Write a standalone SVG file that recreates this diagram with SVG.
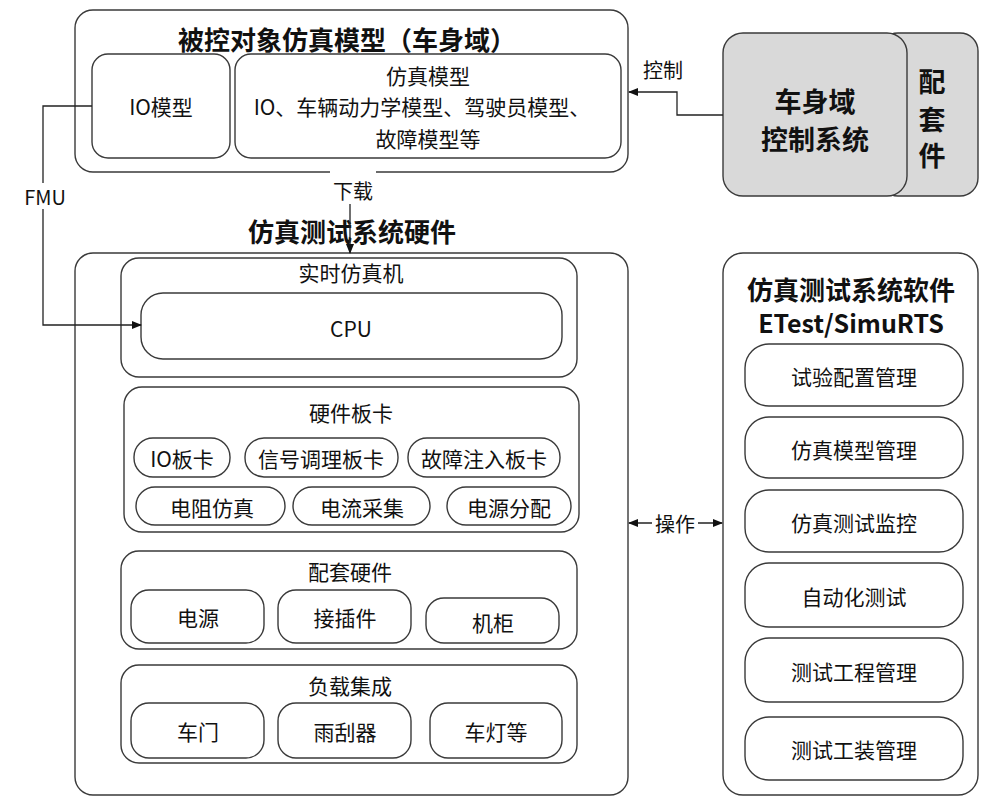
<svg xmlns="http://www.w3.org/2000/svg" width="1000" height="808" viewBox="0 0 1000 808">
<defs>
<marker id="ah" markerWidth="10" markerHeight="8" refX="9" refY="4" orient="auto-start-reverse" markerUnits="userSpaceOnUse">
<path d="M0,0 L10,4 L0,8 Z" fill="#111"/>
</marker>
</defs>
<style>
.box{fill:#fff;stroke:#3a3a3a;stroke-width:1.4}
.gray{fill:#d9d9d9;stroke:#3a3a3a;stroke-width:1.4}
.t{font-family:"Noto Sans CJK SC","Noto Sans",sans-serif;font-size:21px;fill:#111;text-anchor:middle;dominant-baseline:central}
.s{font-size:20px}
.b{font-weight:bold;font-size:26px}
.big{font-weight:bold;font-size:27px}
.ln{fill:none;stroke:#222;stroke-width:1.3}
.lbl{fill:#fff}
</style>
<rect width="1000" height="808" fill="#fff"/>

<g id="plant-model">
<rect class="box" x="75" y="10" width="553" height="162" rx="18"/>
<text class="t b" x="347" y="38">被控对象仿真模型（车身域）</text>
</g>
<g id="io-model">
<rect class="box" x="92" y="54" width="138" height="104" rx="16"/>
<text class="t" x="161" y="106">IO模型</text>
</g>
<g id="sim-model">
<rect class="box" x="235" y="54" width="386" height="104" rx="16"/>
<text class="t" x="428" y="75">仿真模型</text>
<text class="t" x="422" y="106">IO、车辆动力学模型、驾驶员模型、</text>
<text class="t" x="428" y="138">故障模型等</text>
</g>

<g id="accessory">
<rect class="gray" x="880" y="33" width="98" height="163" rx="18"/>
<text class="t big" x="932" y="80">配</text>
<text class="t big" x="932" y="118">套</text>
<text class="t big" x="932" y="154">件</text>
</g>
<g id="body-control">
<rect class="gray" x="723" y="33" width="184" height="163" rx="20"/>
<text class="t big" x="815" y="100">车身域</text>
<text class="t big" x="815" y="138">控制系统</text>
</g>

<text class="t b" x="352" y="230">仿真测试系统硬件</text>

<g id="hardware">
<rect class="box" x="75" y="253" width="553" height="542" rx="18"/>
</g>
<g id="rt-sim">
<rect class="box" x="121" y="258" width="456" height="119" rx="18"/>
<text class="t" x="351" y="272">实时仿真机</text>
</g>
<g id="cpu">
<rect class="box" x="141" y="293" width="421" height="66" rx="22"/>
<text class="t" x="351" y="328">CPU</text>
</g>
<g id="boards">
<rect class="box" x="124" y="387" width="455" height="145" rx="18"/>
<text class="t" x="351" y="412">硬件板卡</text>
</g>
<g id="io-board"><rect class="box" x="134" y="438" width="96" height="39" rx="19"/><text class="t" x="182" y="458">IO板卡</text></g>
<g id="signal-board"><rect class="box" x="245" y="438" width="153" height="39" rx="19"/><text class="t" x="321" y="458">信号调理板卡</text></g>
<g id="fault-board"><rect class="box" x="408" y="438" width="152" height="39" rx="19"/><text class="t" x="484" y="458">故障注入板卡</text></g>
<g id="res-sim"><rect class="box" x="136" y="487" width="149" height="38" rx="19"/><text class="t" x="212" y="507">电阻仿真</text></g>
<g id="cur-acq"><rect class="box" x="293" y="487" width="137" height="38" rx="19"/><text class="t" x="362" y="507">电流采集</text></g>
<g id="pwr-dist"><rect class="box" x="447" y="487" width="124" height="38" rx="19"/><text class="t" x="509" y="507">电源分配</text></g>

<g id="aux-hw">
<rect class="box" x="121" y="551" width="456" height="98" rx="18"/>
<text class="t" x="350" y="571">配套硬件</text>
</g>
<g id="power"><rect class="box" x="131" y="590" width="133" height="53" rx="18"/><text class="t" x="198" y="617">电源</text></g>
<g id="connector"><rect class="box" x="278" y="590" width="133" height="53" rx="18"/><text class="t" x="345" y="617">接插件</text></g>
<g id="cabinet"><rect class="box" x="426" y="598" width="133" height="45" rx="18"/><text class="t" x="493" y="622">机柜</text></g>

<g id="load">
<rect class="box" x="121" y="665" width="456" height="98" rx="18"/>
<text class="t" x="350" y="685">负载集成</text>
</g>
<g id="door"><rect class="box" x="131" y="703" width="133" height="55" rx="18"/><text class="t" x="198" y="731">车门</text></g>
<g id="wiper"><rect class="box" x="278" y="703" width="133" height="55" rx="18"/><text class="t" x="345" y="731">雨刮器</text></g>
<g id="lamp"><rect class="box" x="430" y="703" width="132" height="55" rx="18"/><text class="t" x="496" y="731">车灯等</text></g>

<g id="software">
<rect class="box" x="723" y="253" width="255" height="542" rx="20"/>
<text class="t b" x="851" y="288">仿真测试系统软件</text>
<text class="t b" x="851" y="322" style="font-size:25px">ETest/SimuRTS</text>
</g>
<g id="sw1"><rect class="box" x="745" y="344" width="218" height="62" rx="24"/><text class="t" x="854" y="376">试验配置管理</text></g>
<g id="sw2"><rect class="box" x="745" y="417" width="218" height="61" rx="24"/><text class="t" x="854" y="449">仿真模型管理</text></g>
<g id="sw3"><rect class="box" x="745" y="490" width="218" height="62" rx="24"/><text class="t" x="854" y="522">仿真测试监控</text></g>
<g id="sw4"><rect class="box" x="745" y="563" width="218" height="64" rx="24"/><text class="t" x="854" y="596">自动化测试</text></g>
<g id="sw5"><rect class="box" x="745" y="638" width="218" height="64" rx="24"/><text class="t" x="854" y="671">测试工程管理</text></g>
<g id="sw6"><rect class="box" x="745" y="717" width="218" height="63" rx="24"/><text class="t" x="854" y="749">测试工装管理</text></g>

<g id="connectors">
<path class="ln" d="M92,106 H43 V325 H141" marker-end="url(#ah)"/>
<rect class="lbl" x="20" y="183" width="50" height="26"/>
<text class="t s" x="45" y="196">FMU</text>
<path class="ln" d="M350,172 V253" marker-end="url(#ah)"/>
<rect class="lbl" x="330" y="170" width="46" height="34"/>
<text class="t s" x="353" y="190">下载</text>
<path class="ln" d="M723,115 H677 V92 H629" marker-end="url(#ah)"/>
<text class="t s" x="663" y="69">控制</text>
<path class="ln" d="M629,523 H722" marker-start="url(#ah)" marker-end="url(#ah)"/>
<rect class="lbl" x="652" y="510" width="46" height="26"/>
<text class="t s" x="675" y="523">操作</text>
</g>
</svg>
